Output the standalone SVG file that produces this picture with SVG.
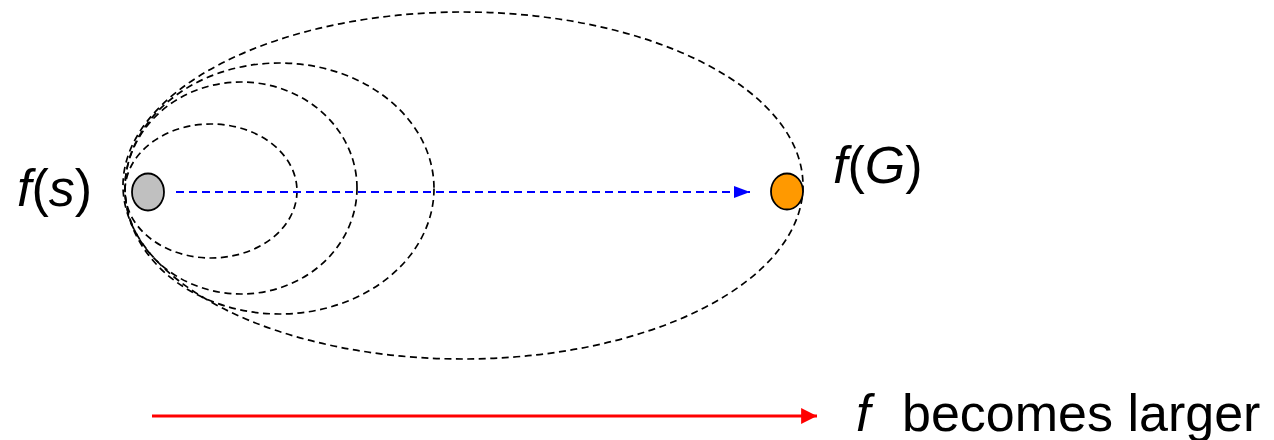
<svg xmlns="http://www.w3.org/2000/svg" width="1274" height="440" viewBox="0 0 1274 440">
<style>
.c{fill:none;stroke:#000;stroke-width:1.7;stroke-dasharray:7 4.5}
.t{font-family:"Liberation Sans",Arial,sans-serif;font-size:52px;fill:#000}
.i{font-style:italic}
</style>
<defs>
<marker id="ab" markerWidth="8" markerHeight="6" refX="8" refY="3" orient="auto" markerUnits="strokeWidth"><path d="M0,0L8,3L0,6z" fill="#00f"/></marker>
<marker id="ar" markerWidth="5.3" markerHeight="5.3" refX="5.3" refY="2.65" orient="auto" markerUnits="strokeWidth"><path d="M0,0L5.3,2.65L0,5.3z" fill="#f00"/></marker>
</defs>
<g id="contours">
<ellipse class="c" cx="211" cy="191" rx="86" ry="67"/>
<ellipse class="c" cx="241" cy="188" rx="116" ry="106"/>
<ellipse class="c" cx="279.5" cy="188.5" rx="154.5" ry="125.5"/>
<ellipse class="c" cx="463" cy="185.5" rx="340" ry="173.5"/>
</g>
<g id="connectors">
<line x1="176" y1="192" x2="750" y2="192" stroke="#00f" stroke-width="2" stroke-dasharray="8 5" marker-end="url(#ab)"/>
<line x1="152" y1="416" x2="817" y2="416" stroke="#f00" stroke-width="3" marker-end="url(#ar)"/>
</g>
<g id="s">
<ellipse cx="148" cy="192" rx="16" ry="18.5" fill="#c0c0c0" stroke="#000" stroke-width="1.8"/>
<text class="t" x="17" y="206"><tspan class="i">f</tspan>(<tspan class="i">s</tspan>)</text>
</g>
<g id="G">
<ellipse cx="787" cy="191.5" rx="16" ry="18" fill="#f90" stroke="#000" stroke-width="1.8"/>
<text class="t" x="833" y="183"><tspan class="i">f</tspan>(<tspan class="i">G</tspan>)</text>
</g>
<g id="label">
<text class="t" x="856" y="431"><tspan class="i">f</tspan><tspan x="902">becomes larger</tspan></text>
</g>
</svg>
